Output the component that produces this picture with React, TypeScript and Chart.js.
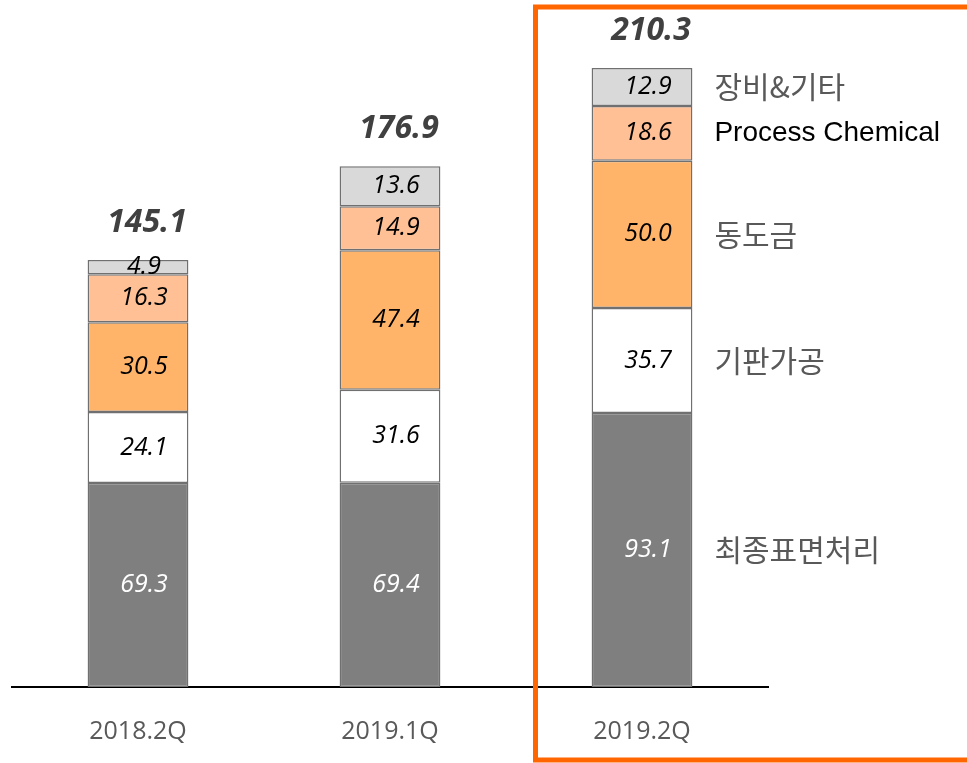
import React, { useEffect, useRef } from "react";
import { Chart, registerables } from "chart.js";

Chart.register(...registerables);

const categories = ["2018.2Q", "2019.1Q", "2019.2Q"];
const seriesNames = ["최종표면처리", "기판가공", "동도금", "Process Chemical", "장비&기타"];
const finalSurface = [69.3, 69.4, 93.1];
const substrate = [24.1, 31.6, 35.7];
const copperPlating = [30.5, 47.4, 50.0];
const processChemical = [16.3, 14.9, 18.6];
const equipment = [4.9, 13.6, 12.9];
const totals = [145.1, 176.9, 210.3];

const seriesValues = [finalSurface, substrate, copperPlating, processChemical, equipment];
const seriesColors = ["#7F7F7F", "#FFFFFF", "#FFB469", "#FFC095", "#D9D9D9"];
const valueColors = ["#FFFFFF", "#000000", "#000000", "#000000", "#000000"];
const nameColors = ["#595959", "#595959", "#595959", "#000000", "#595959"];
const nameFonts = [
  '30px "Noto Sans CJK KR"',
  '30px "Noto Sans CJK KR"',
  '30px "Noto Sans CJK KR"',
  '28px "Liberation Sans"',
  '30px "Noto Sans CJK KR"',
];

const labelsPlugin = {
  id: "customLabels",
  afterDatasetsDraw(chart: any) {
    const ctx = chart.ctx;
    ctx.save();
    ctx.textBaseline = "middle";
    ctx.textAlign = "center";
    chart.data.datasets.forEach((ds: any, i: number) => {
      const meta = chart.getDatasetMeta(i);
      meta.data.forEach((el: any, j: number) => {
        const v = ds.data[j];
        const cy = (el.y + el.base) / 2;
        ctx.font = 'italic 25px "Open Sans"';
        ctx.fillStyle = valueColors[i];
        ctx.fillText(v.toFixed(1), el.x + 6, cy);
      });
    });
    // totals
    const lastMeta = chart.getDatasetMeta(chart.data.datasets.length - 1);
    lastMeta.data.forEach((el: any, j: number) => {
      ctx.font = 'italic bold 32px "Open Sans"';
      ctx.fillStyle = "#404040";
      ctx.fillText(totals[j].toFixed(1), el.x + 9, el.y - 37);
    });
    // series names at the last category
    const lastIdx = categories.length - 1;
    ctx.textAlign = "left";
    chart.data.datasets.forEach((ds: any, i: number) => {
      const el = chart.getDatasetMeta(i).data[lastIdx];
      const cy = (el.y + el.base) / 2;
      ctx.font = nameFonts[i];
      ctx.fillStyle = nameColors[i];
      ctx.fillText(seriesNames[i], el.x + el.width / 2 + 22, cy);
    });
    ctx.restore();
  },
  afterDraw(chart: any) {
    const ctx = chart.ctx;
    ctx.save();
    ctx.strokeStyle = "#FF6600";
    ctx.lineWidth = 5;
    ctx.beginPath();
    ctx.moveTo(1000, 7);
    ctx.lineTo(535.5, 7);
    ctx.lineTo(535.5, 760);
    ctx.lineTo(1000, 760);
    ctx.stroke();
    ctx.restore();
  },
};

export default function App() {
  const ref = useRef<HTMLCanvasElement>(null);
  useEffect(() => {
    if (!ref.current) return;
    const chart = new Chart(ref.current, {
      type: "bar",
      data: {
        labels: categories,
        datasets: seriesValues.map((vals, i) => ({
          label: seriesNames[i],
          data: vals,
          backgroundColor: seriesColors[i],
          borderColor: "#707070",
          borderWidth: 1.5,
          borderSkipped: false,
          barPercentage: 0.8,
          categoryPercentage: 0.5,
        })),
      },
      options: {
        responsive: false,
        animation: false,
        layout: { padding: { left: 12, right: 199, top: 10, bottom: 0 } },
        plugins: {
          legend: { display: false },
          tooltip: { enabled: false },
        },
        scales: {
          x: {
            stacked: true,
            grid: { display: false },
            border: { display: true, color: "#000000", width: 2 },
            ticks: {
              color: "#595959",
              font: { family: '"Open Sans"', size: 25 },
              padding: 22,
            },
            afterFit: (scale: any) => {
              scale.height = 76;
            },
          },
          y: {
            stacked: true,
            display: false,
            min: 0,
            max: 230,
          },
        },
      },
      plugins: [labelsPlugin],
    });
    return () => chart.destroy();
  }, []);
  return (
    <canvas
      ref={ref}
      width={967}
      height={763}
      style={{ position: "absolute", left: 0, top: 0, display: "block" }}
    />
  );
}
